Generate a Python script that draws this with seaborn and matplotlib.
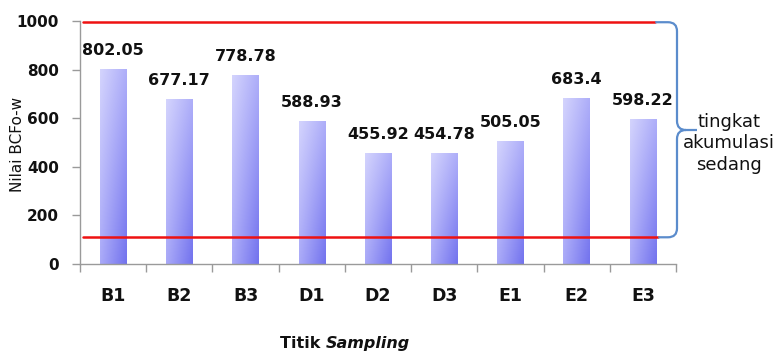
import numpy as np
import pandas as pd
import matplotlib
matplotlib.use("Agg")
import matplotlib.pyplot as plt
from matplotlib.path import Path
from matplotlib.patches import PathPatch
import seaborn as sns

# BCF values per sampling point
titik = ["B1", "B2", "B3", "D1", "D2", "D3", "E1", "E2", "E3"]
nilai_bcf = [802.05, 677.17, 778.78, 588.93, 455.92, 454.78, 505.05, 683.4, 598.22]
batas_atas = 995
batas_bawah = 110
keterangan = "tingkat\nakumulasi\nsedang"

sns.set_theme(style="white")
plt.rcParams["font.family"] = ["DejaVu Sans"]

df = pd.DataFrame({"titik": titik, "nilai": nilai_bcf})

W, H = 781, 356
fig = plt.figure(figsize=(W / 100, H / 100), dpi=100)
ax = fig.add_axes([0.1024, 0.2584, 0.7632, 0.6826])

sns.barplot(data=df, x="titik", y="nilai", ax=ax, width=0.4,
            color="#a0a0f6", saturation=1, edgecolor="none")

# two-way gradient fill clipped to each bar
tl = np.array([0xd4, 0xd4, 0xfd]) / 255
tr = np.array([0xae, 0xae, 0xf9]) / 255
bl = np.array([0xaa, 0xaa, 0xf8]) / 255
br = np.array([0x72, 0x72, 0xee]) / 255
u = np.linspace(0, 1, 64)[None, :, None]
v = np.linspace(0, 1, 128)[:, None, None]
grad = (1 - v) * ((1 - u) * tl + u * tr) + v * ((1 - u) * bl + u * br)
for p in ax.patches:
    x0, y0 = p.get_x(), p.get_y()
    w, h = p.get_width(), p.get_height()
    p.set_facecolor("none")
    im = ax.imshow(grad, extent=[x0, x0 + w, y0, y0 + h], aspect="auto",
                   origin="upper", zorder=2, interpolation="bilinear")
    im.set_clip_path(p)

ax.set_xlim(-0.5, len(titik) - 0.5)
ax.set_ylim(0, 1000)
ax.set_yticks(range(0, 1001, 200))

# value labels
for i, val in enumerate(nilai_bcf):
    ax.annotate(f"{val:g}", (i, val), xytext=(0, 8), textcoords="offset points",
                ha="center", va="bottom", fontsize=11.5, fontweight="bold",
                color="#111111", annotation_clip=False)

# moderate accumulation range
ax.plot([-0.45, 8.186], [batas_atas, batas_atas], color="#ee1111", lw=1.8,
        zorder=3, clip_on=False)
ax.plot([-0.45, 8.23], [batas_bawah, batas_bawah], color="#ee1111", lw=1.8,
        zorder=3, clip_on=False)

# curly brace on the right, laid out in pixel units (y downward)
to_px = ax.transData.transform
xa_top = to_px((8.186, batas_atas))[0]
xa_bot = to_px((8.23, batas_bawah))[0]
y_top = H - to_px((0, batas_atas))[1]
y_bot = H - to_px((0, batas_bawah))[1]
xv, xtip, ymid, r = 677, 697, 130, 9
pts = [
    (xa_top, y_top), (xv - r, y_top), (xv, y_top), (xv, y_top + r),
    (xv, ymid - r), (xv, ymid), (xv + r, ymid), (xtip, ymid),
    (xv + r, ymid), (xv, ymid), (xv, ymid + r),
    (xv, y_bot - r), (xv, y_bot), (xv - r, y_bot), (xa_bot, y_bot),
]
codes = [Path.MOVETO, Path.LINETO, Path.CURVE3, Path.CURVE3,
         Path.LINETO, Path.CURVE3, Path.CURVE3, Path.LINETO,
         Path.MOVETO, Path.CURVE3, Path.CURVE3,
         Path.LINETO, Path.CURVE3, Path.CURVE3, Path.LINETO]
verts = [(x / W, 1 - y / H) for x, y in pts]
brace = PathPatch(Path(verts, codes), facecolor="none", edgecolor="#5b8ccc",
                  lw=1.6, transform=fig.transFigure, clip_on=False, zorder=4)
fig.add_artist(brace)

fig.text(0.933, 0.598, keterangan, ha="center", va="center", fontsize=13,
         color="#111111", linespacing=1.25)

# axes styling
for s in ["top", "right"]:
    ax.spines[s].set_visible(False)
for s in ["left", "bottom"]:
    ax.spines[s].set_color("#9a9a9a")
    ax.spines[s].set_linewidth(1.0)
ax.tick_params(axis="y", direction="out", length=6, width=1, color="#9a9a9a",
               left=True, labelsize=11, pad=9)
ax.tick_params(axis="x", which="major", length=0, labelsize=12.5, pad=16.5)
ax.set_xticks(np.arange(-0.5, len(titik), 1), minor=True)
ax.tick_params(axis="x", which="minor", direction="out", length=6, width=1,
               color="#9a9a9a", bottom=True)
for lab in ax.get_xticklabels() + ax.get_yticklabels():
    lab.set_fontweight("bold")
    lab.set_color("#111111")

ax.set_xlabel("")
ax.set_ylabel("")
fig.text(0.022, 0.593, "Nilai BCFo-w", rotation=90, ha="center", va="center",
         fontsize=11, color="#111111")

# x-axis title with italic "Sampling"
t1 = fig.text(0.0, 0.036, "Titik ", ha="left", va="center", fontsize=11.5,
              fontweight="bold", color="#111111")
t2 = fig.text(0.0, 0.036, "Sampling", ha="left", va="center", fontsize=11.5,
              fontweight="bold", fontstyle="italic", color="#111111")
renderer = fig.canvas.get_renderer()
w1 = t1.get_window_extent(renderer).width
w2 = t2.get_window_extent(renderer).width
x_start = 345 - (w1 + w2) / 2
t1.set_x(x_start / W)
t2.set_x((x_start + w1) / W)

fig.savefig("out.png", dpi=100)
